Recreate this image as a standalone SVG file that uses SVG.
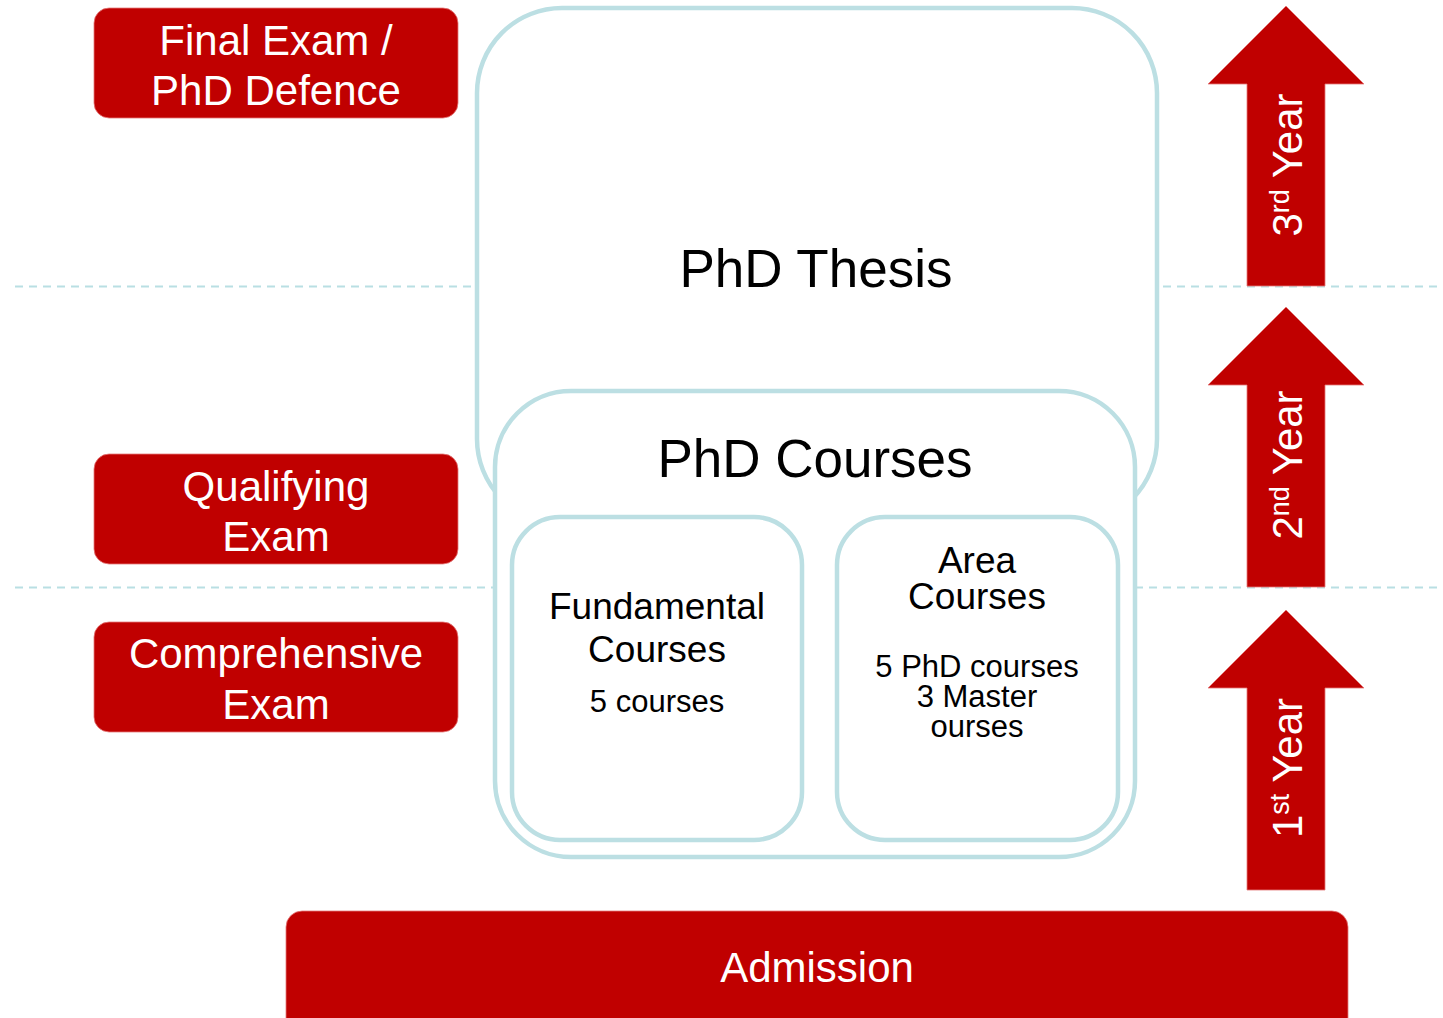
<svg xmlns="http://www.w3.org/2000/svg" width="1443" height="1018" viewBox="0 0 1443 1018">
  <style>
    .lane { stroke: #b9dfe3; stroke-width: 2; stroke-dasharray: 8 6; fill: none; }
    .frame { fill: #ffffff; stroke: #bcdfe3; stroke-width: 4.5; }
    .red { fill: #c00000; stroke: #e57a7a; stroke-width: 0.8; }
    text { font-family: "Liberation Sans", Arial, sans-serif; text-anchor: middle; }
    .dark { fill: #000000; }
    .light { fill: #ffffff; }
  </style>

  <!-- year boundaries -->
  <g id="year-lines">
    <line class="lane" x1="15" y1="286.5" x2="1437" y2="286.5"/>
    <line class="lane" x1="15" y1="587.5" x2="1437" y2="587.5"/>
  </g>

  <!-- thesis block -->
  <g id="phd-thesis">
    <rect class="frame" x="477" y="8" width="680" height="516" rx="85" ry="85"/>
    <text class="dark" x="816" y="287" font-size="53">PhD Thesis</text>
  </g>

  <!-- course block with its two parts -->
  <g id="phd-courses">
    <rect class="frame" x="495" y="391" width="640" height="466" rx="76" ry="76"/>
    <text class="dark" x="815" y="477" font-size="53">PhD Courses</text>
  </g>

  <g id="fundamental-courses">
    <rect class="frame" x="512" y="517" width="290" height="323" rx="48" ry="48"/>
    <text class="dark" x="657" y="619" font-size="37">Fundamental</text>
    <text class="dark" x="657" y="662" font-size="37">Courses</text>
    <text class="dark" x="657" y="712" font-size="31">5 courses</text>
  </g>

  <g id="area-courses">
    <rect class="frame" x="837" y="517" width="281" height="323" rx="48" ry="48"/>
    <text class="dark" x="977" y="573" font-size="37">Area</text>
    <text class="dark" x="977" y="609" font-size="37">Courses</text>
    <text class="dark" x="977" y="677" font-size="31">5 PhD courses</text>
    <text class="dark" x="977" y="707" font-size="31">3 Master</text>
    <text class="dark" x="977" y="737" font-size="31">ourses</text>
  </g>

  <!-- milestones -->
  <g id="final-exam">
    <rect class="red" x="94" y="8" width="364" height="110" rx="15" ry="15"/>
    <text class="light" x="276" y="55" font-size="42">Final Exam /</text>
    <text class="light" x="276" y="105" font-size="42">PhD Defence</text>
  </g>

  <g id="qualifying-exam">
    <rect class="red" x="94" y="454" width="364" height="110" rx="15" ry="15"/>
    <text class="light" x="276" y="501" font-size="42">Qualifying</text>
    <text class="light" x="276" y="551" font-size="42">Exam</text>
  </g>

  <g id="comprehensive-exam">
    <rect class="red" x="94" y="622" width="364" height="110" rx="15" ry="15"/>
    <text class="light" x="276" y="668" font-size="42">Comprehensive</text>
    <text class="light" x="276" y="719" font-size="42">Exam</text>
  </g>

  <g id="admission">
    <rect class="red" x="286" y="911" width="1062" height="140" rx="16" ry="16"/>
    <text class="light" x="817" y="982" font-size="42">Admission</text>
  </g>

  <!-- year arrows -->
  <g id="year-1">
    <polygon class="red" points="1286,610 1364,688 1325,688 1325,890 1247,890 1247,688 1208,688"/>
    <text class="light" font-size="42" transform="translate(1302 768) rotate(-90)">1<tspan font-size="27" dy="-13">st</tspan><tspan dy="13"> Year</tspan></text>
  </g>

  <g id="year-2">
    <polygon class="red" points="1286,307 1364,385 1325,385 1325,587 1247,587 1247,385 1208,385"/>
    <text class="light" font-size="42" transform="translate(1302 465) rotate(-90)">2<tspan font-size="27" dy="-13">nd</tspan><tspan dy="13"> Year</tspan></text>
  </g>

  <g id="year-3">
    <polygon class="red" points="1286,6 1364,84 1325,84 1325,286 1247,286 1247,84 1208,84"/>
    <text class="light" font-size="42" transform="translate(1302 165) rotate(-90)">3<tspan font-size="27" dy="-13">rd</tspan><tspan dy="13"> Year</tspan></text>
  </g>

  <g id="connectors"/>
</svg>
